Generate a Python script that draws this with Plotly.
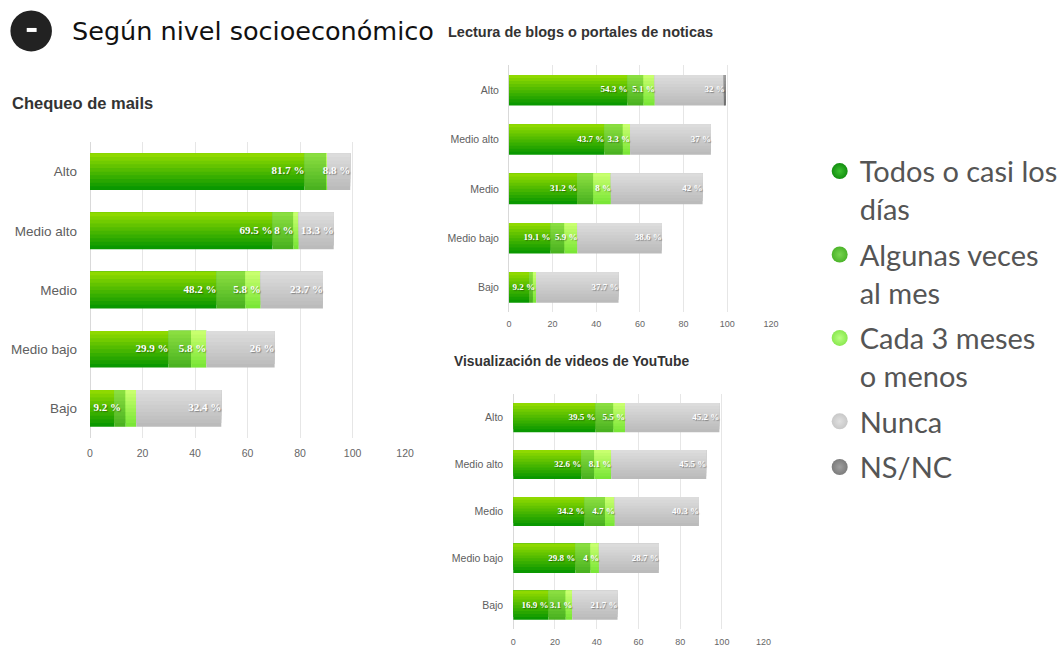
import plotly.graph_objects as go

# ---------------------------------------------------------------- data
categories = ["Alto", "Medio alto", "Medio", "Medio bajo", "Bajo"]
series_names = [
    "Todos o casi los<br>días",
    "Algunas veces<br>al mes",
    "Cada 3 meses<br>o menos",
    "Nunca",
    "NS/NC",
]

# Chequeo de mails
mails_todos = [81.7, 69.5, 48.2, 29.9, 9.2]
mails_algunas = [8.3, 8.0, 11.0, 8.6, 4.4]
mails_cada3 = [0.3, 2.0, 5.8, 5.8, 4.0]
mails_nunca = [8.8, 13.3, 23.7, 26.0, 32.4]
mails_nsnc = [0, 0, 0, 0, 0]

# Lectura de blogs o portales de noticias
blogs_todos = [54.3, 43.7, 31.2, 19.1, 9.2]
blogs_algunas = [7.4, 8.5, 7.5, 6.4, 1.8]
blogs_cada3 = [5.1, 3.3, 8.0, 5.9, 1.5]
blogs_nunca = [32.0, 37.0, 42.0, 38.6, 37.7]
blogs_nsnc = [0.4, 0, 0, 0, 0]

# Visualización de videos de YouTube
videos_todos = [39.5, 32.6, 34.2, 29.8, 16.9]
videos_algunas = [8.6, 6.3, 9.8, 7.3, 8.3]
videos_cada3 = [5.5, 8.1, 4.7, 4.0, 3.1]
videos_nunca = [45.2, 45.5, 40.3, 28.7, 21.7]
videos_nsnc = [0, 0, 0, 0, 0]

# which segments carry a value label
mails_labels = [
    [True] * 5,
    [False, True, False, False, False],
    [False, False, True, True, False],
    [True] * 5,
    [False] * 5,
]
blogs_labels = [
    [True] * 5,
    [False] * 5,
    [True, True, True, True, False],
    [True] * 5,
    [False] * 5,
]
videos_labels = [
    [True] * 5,
    [False] * 5,
    [True] * 5,
    [True] * 5,
    [False] * 5,
]

x_ticks = [0, 20, 40, 60, 80, 100, 120]

# ---------------------------------------------------------------- styling
W, H = 1064, 647
# (bottom colour, top colour) of each series' vertical gradient
gradients = [
    ("#0a9800", "#8fd900"),
    ("#4ab220", "#8ade40"),
    ("#7ae637", "#c8ff6e"),
    ("#bbbbbb", "#dcdcdc"),
    ("#6e6e6e", "#9c9c9c"),
]
legend_colors = [
    ("#138f10", "#3cc030"),
    ("#4cb42a", "#78d450"),
    ("#8ae850", "#b8ff80"),
    ("#c8c8c8", "#e0e0e0"),
    ("#7c7c7c", "#a0a0a0"),
]
BAR_W = 0.62
STRIPS = 10
AXIS_FONT = "Liberation Sans, Arial, sans-serif"
LABEL_FONT = "Liberation Serif, serif"


def mix(c1, c2, t):
    a = [int(c1[i:i + 2], 16) for i in (1, 3, 5)]
    b = [int(c2[i:i + 2], 16) for i in (1, 3, 5)]
    return "#%02x%02x%02x" % tuple(round(a[i] + (b[i] - a[i]) * t) for i in range(3))


def px_x(x):
    return x / W


def px_y(y):
    return 1 - y / H


charts = [
    dict(
        title="Chequeo de mails",
        series=[mails_todos, mails_algunas, mails_cada3, mails_nunca, mails_nsnc],
        labels=mails_labels,
        ax="", xdom=(88, 406.7), ydom=(142.3, 438.7),
        cat_size=13.5, cat_standoff=12, tick_size=10.5, tick_standoff=7,
        label_size=11, title_pos=(7, 103), title_size=16.5,
    ),
    dict(
        title="Lectura de blogs o portales de noticas",
        series=[blogs_todos, blogs_algunas, blogs_cada3, blogs_nunca, blogs_nsnc],
        labels=blogs_labels,
        ax="2", xdom=(511.7, 776.7), ydom=(65.6, 312.7),
        cat_size=10.5, cat_standoff=9, tick_size=9, tick_standoff=5,
        label_size=9, title_pos=(448, 32), title_size=14.5,
    ),
    dict(
        title="Visualización de videos de YouTube",
        series=[videos_todos, videos_algunas, videos_cada3, videos_nunca, videos_nsnc],
        labels=videos_labels,
        ax="3", xdom=(516, 769.3), ydom=(394.8, 629.7),
        cat_size=10.5, cat_standoff=9, tick_size=9, tick_standoff=6,
        label_size=9, title_pos=(454, 362), title_size=13.8,
    ),
]

fig = go.Figure()
annotations = []
layout_axes = {}

for ch in charts:
    xa, ya = "x" + ch["ax"], "y" + ch["ax"]
    ppu = (ch["xdom"][1] - ch["xdom"][0]) / 120.0
    base = [0.0] * len(categories)
    label_x, label_y, label_t, label_p = [], [], [], []
    for s, vals in enumerate(ch["series"]):
        c_bot, c_top = gradients[s]
        # gradient: stacked strips, each one anchored at the top edge of the bar
        for k in range(STRIPS):
            width = BAR_W * (STRIPS - k) / STRIPS
            fig.add_trace(go.Bar(
                orientation="h", y=categories, x=vals, base=list(base),
                width=width, offset=BAR_W / 2 - width,
                marker=dict(color=mix(c_bot, c_top, k / (STRIPS - 1)), line=dict(width=0)),
                xaxis=xa, yaxis=ya, showlegend=False, hoverinfo="skip",
            ))
        for i, v in enumerate(vals):
            if ch["labels"][s][i]:
                txt = f"{v:g} %"
                end = base[i] + v
                est = len(txt) * ch["label_size"] * 0.52
                if end * ppu - est - 4 < 0:
                    # too short to hold its label: start it just inside the bar
                    label_x.append(base[i] + 3.5 / ppu); label_p.append("middle right")
                else:
                    label_x.append(end); label_p.append("middle left")
                label_y.append(categories[i]); label_t.append(txt)
        base = [b + v for b, v in zip(base, vals)]

    fig.add_trace(go.Scatter(
        x=label_x, y=label_y, text=label_t, mode="text", textposition=label_p,
        textfont=dict(family=LABEL_FONT, size=ch["label_size"], color="white",
                      weight="bold", shadow="1px 1px 1px rgba(0,0,0,0.35)"),
        xaxis=xa, yaxis=ya, showlegend=False, hoverinfo="skip", cliponaxis=False,
    ))

    layout_axes["xaxis" + ch["ax"]] = dict(
        domain=[px_x(ch["xdom"][0]), px_x(ch["xdom"][1])], anchor=ya,
        range=[0, 120], tickvals=x_ticks, showgrid=True, gridcolor="#e6e6e6",
        gridwidth=1, zeroline=True, zerolinecolor="#d9d9d9", zerolinewidth=1,
        showline=False, ticks="", fixedrange=True,
        ticklabelstandoff=ch["tick_standoff"],
        tickfont=dict(family=AXIS_FONT, size=ch["tick_size"], color="#666666"),
    )
    layout_axes["yaxis" + ch["ax"]] = dict(
        domain=[px_y(ch["ydom"][1]), px_y(ch["ydom"][0])], anchor=xa,
        type="category", categoryorder="array", categoryarray=categories[::-1],
        range=[-0.5, 4.5], showgrid=False, zeroline=False, showline=False,
        ticks="", ticklabelstandoff=ch["cat_standoff"], fixedrange=True,
        tickfont=dict(family=AXIS_FONT, size=ch["cat_size"], color="#606060"),
    )
    annotations.append(dict(
        text="<b>%s</b>" % ch["title"], xref="paper", yref="paper",
        x=px_x(ch["title_pos"][0]), y=px_y(ch["title_pos"][1]),
        xanchor="left", yanchor="middle", showarrow=False,
        font=dict(family=AXIS_FONT, size=ch["title_size"], color="#333333"),
    ))

# legend entries
for s, name in enumerate(series_names):
    c_dark, c_light = legend_colors[s]
    fig.add_trace(go.Scatter(
        x=[None], y=[None], mode="markers", name=name, legendgroup=str(s),
        marker=dict(size=16, color=c_dark, gradient=dict(type="radial", color=c_light)),
        showlegend=True,
    ))

# header
annotations.append(dict(
    text="Según nivel socioeconómico", xref="paper", yref="paper",
    x=px_x(68), y=px_y(31), xanchor="left", yanchor="middle", showarrow=False,
    font=dict(family="DejaVu Sans, sans-serif", size=25.5, color="#111111"),
))
shapes = [
    dict(type="circle", xref="paper", yref="paper",
         x0=px_x(7.5), x1=px_x(49.5), y0=px_y(51.5), y1=px_y(10.5),
         fillcolor="#222222", line=dict(width=0)),
    dict(type="rect", xref="paper", yref="paper",
         x0=px_x(24), x1=px_x(34), y0=px_y(32), y1=px_y(28),
         fillcolor="white", line=dict(width=0)),
]

fig.update_layout(
    width=W, height=H, margin=dict(l=0, r=0, t=0, b=0),
    paper_bgcolor="white", plot_bgcolor="white",
    barmode="overlay", showlegend=True,
    legend=dict(
        x=px_x(826), y=px_y(146), xanchor="left", yanchor="top",
        font=dict(family="Lato, sans-serif", size=29, color="#555555"),
        valign="top", tracegroupgap=5, itemsizing="trace",
        bgcolor="rgba(0,0,0,0)",
    ),
    annotations=annotations, shapes=shapes,
    **layout_axes,
)

fig.write_html("out.html")
